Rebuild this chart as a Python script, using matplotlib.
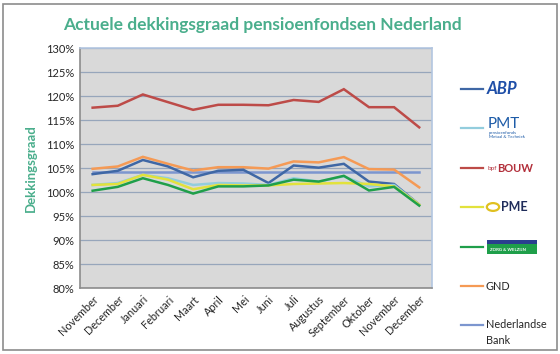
import matplotlib
matplotlib.use("Agg")
import matplotlib.pyplot as plt
from matplotlib.patches import Rectangle, FancyBboxPatch, Circle
from matplotlib.lines import Line2D

plt.rcParams['font.family'] = ['Lato', 'DejaVu Sans']

months = ["November", "December", "Januari", "Februari", "Maart", "April", "Mei",
          "Juni", "Juli", "Augustus", "September", "Oktober", "November", "December"]

abp  = [103.75, 104.45, 106.7, 105.35, 103.1, 104.45, 104.65, 101.9, 105.55, 105.1, 105.9, 102.2, 101.7, 97.4]
pmt  = [101.5, 101.9, 103.6, 102.9, 101.5, 101.9, 101.8, 101.5, 102.9, 102.2, 103.3, 101.2, 101.5, 97.4]
bouw = [117.6, 118.0, 120.35, 118.75, 117.15, 118.2, 118.2, 118.1, 119.2, 118.8, 121.45, 117.7, 117.7, 113.5]
pme  = [101.5, 101.7, 103.6, 102.6, 100.6, 101.5, 101.4, 101.4, 101.7, 101.8, 101.9, 101.7, 101.2, 97.4]
zw   = [100.3, 101.1, 102.9, 101.5, 99.7, 101.2, 101.2, 101.4, 102.6, 102.2, 103.4, 100.35, 101.1, 97.2]
gnd  = [104.86, 105.35, 107.36, 105.9, 104.5, 105.2, 105.2, 104.9, 106.4, 106.2, 107.3, 104.8, 104.7, 101.0]
nb   = [104.1] * 14

yticks = list(range(80, 131, 5))

series = [
    ("ABP", abp, "#3f67a5"),
    ("PMT", pmt, "#93cddd"),
    ("bpfBOUW", bouw, "#bd4b48"),
    ("PME", pme, "#e2e23c"),
    ("Zorg & Welzijn", zw, "#1f9f4a"),
    ("GND", gnd, "#f59a55"),
    ("Nederlandse Bank", nb, "#7c96cf"),
]
draw_order = [6, 2, 5, 0, 1, 3, 4]

fig = plt.figure(figsize=(5.6, 3.54), dpi=100)
fig.patch.set_facecolor("white")
fig.add_artist(Rectangle((0.006, 0.01), 0.988, 0.98, transform=fig.transFigure,
                         fill=False, edgecolor="#8c8c8c", linewidth=1.2))

ax = fig.add_axes([0.143, 0.186, 0.628, 0.678])
ax.set_facecolor("#d9d9d9")
x = list(range(len(months)))
for i in draw_order:
    name, vals, col = series[i]
    ax.plot(x, vals, color=col, linewidth=1.8, solid_joinstyle="miter", zorder=3)

ax.set_xlim(-0.5, len(months) - 0.5)
ax.set_ylim(80, 130)
ax.set_yticks(yticks)
ax.set_yticklabels([f"{t}%" for t in yticks], fontsize=8, color="#262626")
ax.set_xticks(x)
ax.set_xticklabels(months, rotation=45, ha="right", rotation_mode="anchor", fontsize=7.8, color="#262626")
ax.tick_params(length=0, pad=4)
ax.grid(axis="y", color="#97a6bb", linewidth=0.9, zorder=1)
for s in ["top", "right", "bottom", "left"]:
    ax.spines[s].set_color("#b3c6e0")
    ax.spines[s].set_linewidth(1.2)
ax.spines["left"].set_color("#8c8c8c")
ax.spines["bottom"].set_color("#8c8c8c")

teal = "#4aae8c"
fig.text(262 / 560, 1 - 25 / 354, "Actuele dekkingsgraad pensioenfondsen Nederland", ha="center", va="center",
         fontsize=12.5, fontweight="bold", color=teal)
ax.set_ylabel("Dekkingsgraad", fontsize=9.5, fontweight="bold", color=teal, labelpad=7)

# Legend
W, H = 560, 354
def fx(px): return px / W
def fy(py): return 1 - py / H
ys = [89, 128, 168, 207, 247, 286, 325]
for (name, vals, col), yy in zip(series, ys):
    fig.add_artist(Line2D([fx(461), fx(483)], [fy(yy), fy(yy)], color=col, linewidth=1.6,
                          transform=fig.transFigure))

fig.text(fx(487), fy(89), "ABP", fontsize=12, fontweight="bold", fontstyle="italic",
         color="#1f4fa8", va="center", ha="left")
fig.text(fx(488), fy(124), "PMT", fontsize=11, color="#1e5ca8", va="center", ha="left")
fig.text(fx(489), fy(135), "pensioenfonds\nMetaal & Techniek", fontsize=3.2, color="#1e5ca8",
         va="center", ha="left", linespacing=1.0)
fig.text(fx(488), fy(168), "bpf", fontsize=4.5, color="#b22f3a", va="center", ha="left")
fig.text(fx(497), fy(168), "BOUW", fontsize=8, fontweight="bold", color="#b22f3a", va="center", ha="left")
fig.add_artist(Circle((fx(493), fy(207)), 0.011, transform=fig.transFigure, fill=False,
                      edgecolor="#e0c020", linewidth=1.6))
fig.text(fx(501), fy(207), "PME", fontsize=9, fontweight="bold", color="#1f2c5a", va="center", ha="left")
fig.add_artist(FancyBboxPatch((fx(487), fy(254)), fx(50), 14 / H, boxstyle="square,pad=0",
                              transform=fig.transFigure, facecolor="#1f9f4a", edgecolor="none"))
fig.add_artist(Rectangle((fx(487), fy(244)), fx(50), 4 / H, transform=fig.transFigure,
                         facecolor="#2a3f8f", edgecolor="none"))
fig.text(fx(490), fy(250), "ZORG & WELZIJN", fontsize=3.2, fontweight="bold", color="white",
         va="center", ha="left")
fig.text(fx(486), fy(286), "GND", fontsize=7.8, color="#262626", va="center", ha="left")
fig.text(fx(486), fy(325), "Nederlandse", fontsize=7.8, color="#262626", va="center", ha="left")
fig.text(fx(486), fy(341), "Bank", fontsize=7.8, color="#262626", va="center", ha="left")

fig.savefig("out.png", dpi=100, facecolor="white")
